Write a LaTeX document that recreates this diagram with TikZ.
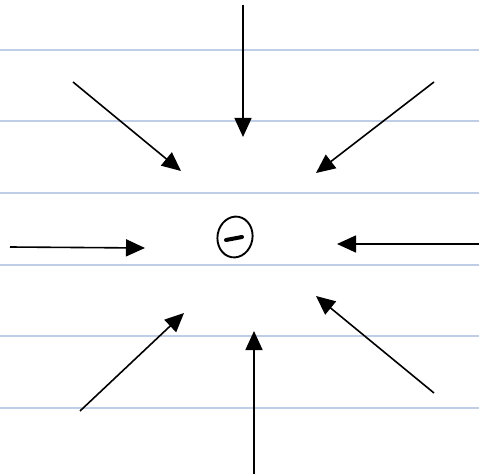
\documentclass[tikz,border=0pt]{standalone}
\usetikzlibrary{arrows.meta, shapes.geometric}
\definecolor{crule}{HTML}{C0CDE6}

\begin{document}
\begin{tikzpicture}[
  x=1pt, y=-1pt,
  >={Triangle[length=19pt, width=17pt]},
  rule/.style={draw=crule, line width=1.6pt},
  fieldarr/.style={->, line width=1.6pt, draw=black},
  charge/.style={draw, ellipse, line width=1.9pt, minimum width=35pt,
                 minimum height=41pt, inner sep=0pt},
]
\useasboundingbox[fill=white] (0,0) rectangle (479,476);
% ruled paper
\foreach \y in {50,121,193,265,336,408}
  \draw[rule] (0,\y) -- (479,\y);
% the charge
\node[charge, rotate=-10] (q) at (235,237) {};
\draw[line width=4pt, line cap=round]
  ([shift={(-9,3)}]q.center) -- ([shift={(7,0)}]q.center);
% field lines: outer end (o) to inner end (i)
\coordinate (to) at (243,5);    \coordinate (ti) at (243,137);
\coordinate (tlo) at (73,82);   \coordinate (tli) at (181,171);
\coordinate (tro) at (434,82);  \coordinate (tri) at (316,173);
\coordinate (lo) at (10,247);   \coordinate (li) at (145,248);
\coordinate (ro) at (479,244);  \coordinate (ri) at (337,244);
\coordinate (blo) at (80,411);  \coordinate (bli) at (184,313);
\coordinate (bo) at (254,474);  \coordinate (bi) at (254,331);
\coordinate (bro) at (434,393); \coordinate (bri) at (316,296);

\draw[fieldarr] (to)--(ti);
\draw[fieldarr] (tlo)--(tli);
\draw[fieldarr] (tro)--(tri);
\draw[fieldarr] (lo)--(li);
\draw[fieldarr] (ro)--(ri);
\draw[fieldarr] (blo)--(bli);
\draw[fieldarr] (bo)--(bi);
\draw[fieldarr] (bro)--(bri);
\end{tikzpicture}
\end{document}
